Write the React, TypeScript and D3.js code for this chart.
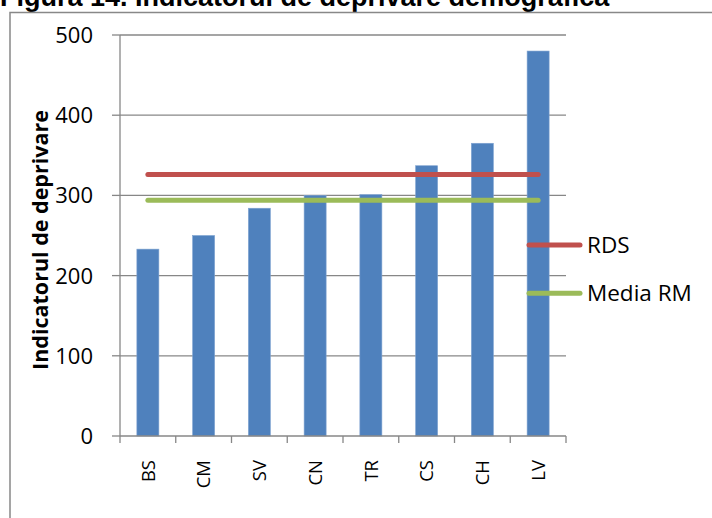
import React from "react";
import * as d3 from "d3";

const categories = ["BS", "CM", "SV", "CN", "TR", "CS", "CH", "LV"];
const barValues = [233, 250, 284, 300, 301, 337, 365, 480];
const rdsValues = [326, 326, 326, 326, 326, 326, 326, 326];
const mediaValues = [294, 294, 294, 294, 294, 294, 294, 294];
const yTicks = [0, 100, 200, 300, 400, 500];
const legendLabels = ["RDS", "Media RM"];

const W = 712;
const H = 518;
const plot = { left: 120, right: 566, top: 35, bottom: 436 };
const BAR = "#4F81BD";
const RED = "#C0504D";
const GREEN = "#9BBB59";
const GRID = "#878787";
const FONT = "'Open Sans', 'Liberation Sans', sans-serif";

export default function App() {
  const x = d3
    .scaleBand<string>()
    .domain(categories)
    .range([plot.left, plot.right])
    .paddingInner(0.605)
    .paddingOuter(0.3025);
  const y = d3.scaleLinear().domain([0, 500]).range([plot.bottom, plot.top]);
  const step = x.step();
  const cx = (c: string) => (x(c) as number) + x.bandwidth() / 2;

  const line = d3
    .line<number>()
    .x((_, i) => cx(categories[i]))
    .y((d) => y(d));

  const boundaries = d3.range(categories.length + 1).map((i) => plot.left + i * step);

  return (
    <svg
      width={W}
      height={H}
      style={{ position: "absolute", left: 0, top: 0, background: "#fff" }}
    >
      <rect x={0} y={0} width={W} height={H} fill="#fff" />
      {/* title */}
      <text
        x={0}
        y={5.5}
        fontFamily="'Liberation Sans', Arial, sans-serif"
        fontWeight="bold"
        fontSize={27}
        fill="#000"
      >
        Figura 14. Indicatorul de deprivare demografică
      </text>
      {/* chart border */}
      <path d={`M10,${H + 2}V12.5H${W + 2}`} fill="none" stroke="#888" strokeWidth={1.5} />

      {/* gridlines */}
      {yTicks.map((t) => (
        <g key={t}>
          {t > 0 && (
            <line x1={plot.left} x2={plot.right} y1={y(t)} y2={y(t)} stroke={GRID} strokeWidth={1.3} />
          )}
          <line x1={plot.left - 8} x2={plot.left} y1={y(t)} y2={y(t)} stroke={GRID} strokeWidth={1.3} />
          <text
            x={93}
            y={y(t)}
            dy="0.36em"
            textAnchor="end"
            fontFamily={FONT}
            fontSize={22}
            fill="#000"
          >
            {t}
          </text>
        </g>
      ))}

      {/* bars */}
      {categories.map((c, i) => (
        <rect
          key={c}
          x={x(c)}
          y={y(barValues[i])}
          width={x.bandwidth()}
          height={y(0) - y(barValues[i])}
          fill={BAR}
          stroke="#7fa3d1"
          strokeWidth={0.6}
        />
      ))}

      {/* axes */}
      <line x1={plot.left} x2={plot.left} y1={plot.top} y2={plot.bottom} stroke={GRID} strokeWidth={1.3} />
      <line x1={plot.left} x2={plot.right} y1={plot.bottom} y2={plot.bottom} stroke={GRID} strokeWidth={1.3} />
      {boundaries.map((bx, i) => (
        <line key={i} x1={bx} x2={bx} y1={plot.bottom} y2={plot.bottom + 7} stroke={GRID} strokeWidth={1.3} />
      ))}

      {/* category labels */}
      {categories.map((c) => (
        <text
          key={c}
          transform={`translate(${cx(c)},460) rotate(-90)`}
          textAnchor="end"
          dy="0.36em"
          fontFamily={FONT}
          fontSize={18.5}
          fill="#000"
        >
          {c}
        </text>
      ))}

      {/* series lines */}
      <path d={line(rdsValues) || ""} fill="none" stroke={RED} strokeWidth={5} strokeLinecap="round" />
      <path d={line(mediaValues) || ""} fill="none" stroke={GREEN} strokeWidth={5} strokeLinecap="round" />

      {/* y axis title */}
      <text
        transform="translate(48,240) rotate(-90)"
        textAnchor="middle"
        fontFamily={FONT}
        fontWeight="bold"
        fontSize={21.5}
        fill="#000"
      >
        Indicatorul de deprivare
      </text>

      {/* legend */}
      {legendLabels.map((lab, i) => {
        const ly = 245 + i * 48.3;
        const col = i === 0 ? RED : GREEN;
        return (
          <g key={lab}>
            <line x1={529} x2={580} y1={ly} y2={ly} stroke={col} strokeWidth={5} strokeLinecap="round" />
            <text x={587} y={ly} dy="0.36em" fontFamily={FONT} fontSize={22.5} fill="#000">
              {lab}
            </text>
          </g>
        );
      })}
    </svg>
  );
}
